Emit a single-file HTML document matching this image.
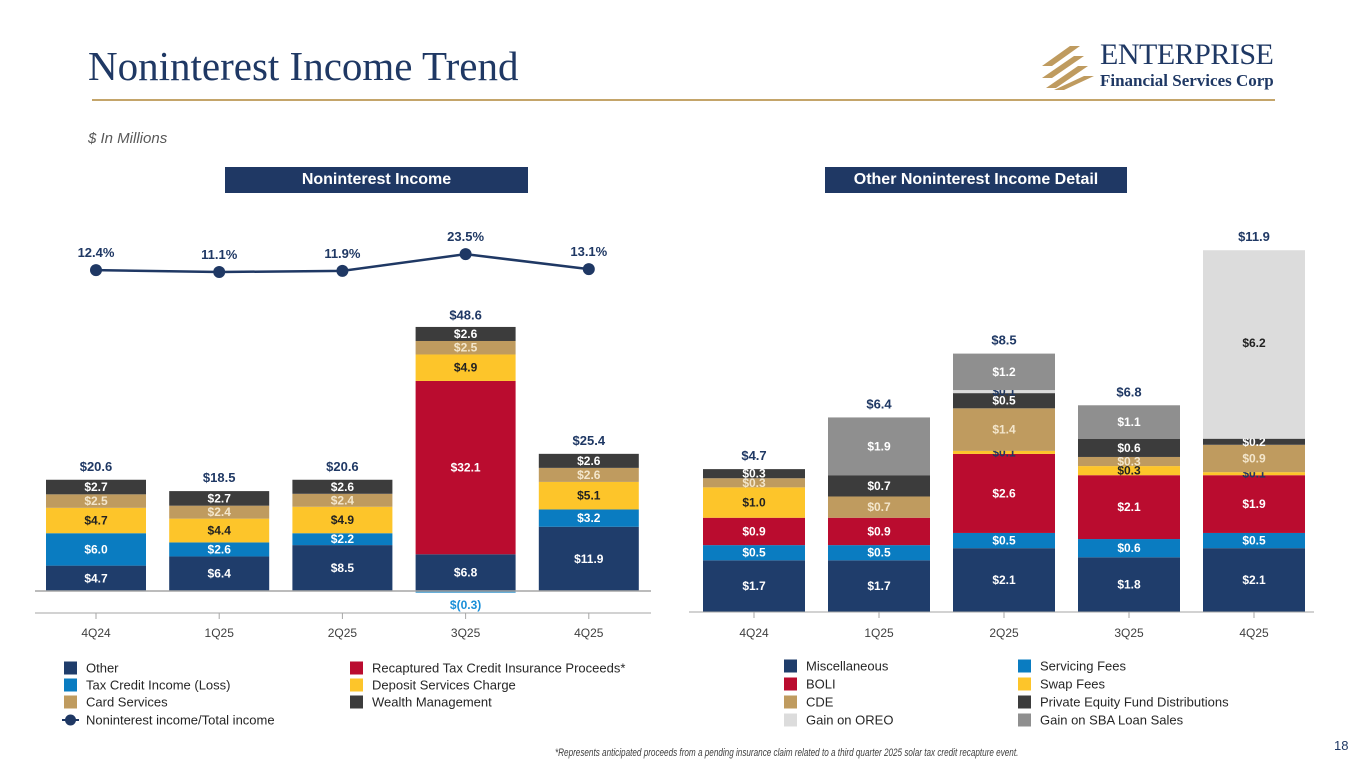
<!DOCTYPE html>
<html><head><meta charset="utf-8"><style>
body{margin:0;width:1365px;height:768px;background:#fff;overflow:hidden;font-family:"Liberation Sans",sans-serif;position:relative}
.t{position:absolute;white-space:nowrap}
</style></head><body>
<div class="t" style="left:88px;top:42px;font-family:'Liberation Serif',serif;font-size:41px;color:#1f3864">Noninterest Income Trend</div>
<div style="position:absolute;left:92px;top:99px;width:1183px;height:2px;background:#c4a56a"></div>
<div style="position:absolute;left:1040px;top:40px;width:240px;height:52px">
<svg width="60" height="52"><g fill="#bf9b5f"><polygon points="2,26 30,6 40,6 12,26"/><polygon points="2,38 34,16 44,16 12,38"/><polygon points="6,48 38,26 48,26 16,48"/><polygon points="14,50 44,36 54,36 24,50"/></g></svg>
<div class="t" style="left:60px;top:-2px;font-family:'Liberation Serif',serif;font-size:30px;color:#1f3864;letter-spacing:-0.5px">ENTERPRISE</div>
<div class="t" style="left:60px;top:31px;font-family:'Liberation Serif',serif;font-size:17px;font-weight:bold;color:#1f3864">Financial Services Corp</div>
</div>
<div class="t" style="left:88px;top:130px;font-size:15px;font-style:italic;color:#595959">$ In Millions</div>
<div class="t" style="left:225px;top:167px;width:303px;height:26px;background:#1f3864;color:#fff;font-weight:bold;font-size:16px;line-height:26px;text-align:center">Noninterest Income</div>
<div class="t" style="left:825px;top:167px;width:302px;height:26px;background:#1f3864;color:#fff;font-weight:bold;font-size:16px;line-height:26px;text-align:center">Other Noninterest Income Detail</div>
<svg id="chart" width="1365" height="768" style="position:absolute;left:0;top:0"></svg>
<div class="t" style="left:555px;top:747px;font-size:11px;font-style:italic;color:#404040;transform:scaleX(0.74);transform-origin:left top">*Represents anticipated proceeds from a pending insurance claim related to a third quarter 2025 solar tax credit recapture event.</div>
<div class="t" style="left:1334px;top:738px;font-size:13px;color:#1f3864">18</div>
<script>
const categories=["4Q24","1Q25","2Q25","3Q25","4Q25"];
const leftSeriesNames=["Other","Tax Credit Income (Loss)","Recaptured Tax Credit Insurance Proceeds*","Deposit Services Charge","Card Services","Wealth Management"];
const leftOther=[4.7,6.4,8.5,6.8,11.9];
const leftTaxCredit=[6.0,2.6,2.2,-0.3,3.2];
const leftRecaptured=[0,0,0,32.1,0];
const leftDeposit=[4.7,4.4,4.9,4.9,5.1];
const leftCard=[2.5,2.4,2.4,2.5,2.6];
const leftWealth=[2.7,2.7,2.6,2.6,2.6];
const leftTotals=[20.6,18.5,20.6,48.6,25.4];
const ratioPct=[12.4,11.1,11.9,23.5,13.1];
const rightSeriesNames=["Miscellaneous","Servicing Fees","BOLI","Swap Fees","CDE","Private Equity Fund Distributions","Gain on OREO","Gain on SBA Loan Sales"];
const rMisc=[1.7,1.7,2.1,1.8,2.1];
const rServicing=[0.5,0.5,0.5,0.6,0.5];
const rBoli=[0.9,0.9,2.6,2.1,1.9];
const rSwap=[1.0,0,0.1,0.3,0.1];
const rCde=[0.3,0.7,1.4,0.3,0.9];
const rPe=[0.3,0.7,0.5,0.6,0.2];
const rOreo=[0,0,0.1,0,6.2];
const rSba=[0,1.9,1.2,1.1,0];
const rightTotals=[4.7,6.4,8.5,6.8,11.9];

const NS="http://www.w3.org/2000/svg";
const svg=document.getElementById('chart');
function el(tag,attrs,parent){const e=document.createElementNS(NS,tag);for(const k in attrs)e.setAttribute(k,attrs[k]);(parent||svg).appendChild(e);return e;}
function txt(x,y,s,fill,size,parent){const t=el('text',{x:x,y:y,fill:fill,'font-size':size||12,'font-weight':'bold','text-anchor':'middle','font-family':'Liberation Sans, sans-serif'},parent);t.textContent=s;return t;}
const fmt=v=>v<0?'$('+Math.abs(v).toFixed(1)+')':'$'+v.toFixed(1);

// Left chart
const L={x0:96,step:123.2,bw:100,base:591,k:5.4};
const lx=i=>L.x0+i*L.step;
const ly=v=>L.base-v*L.k;
const leftSeries=[leftOther,leftTaxCredit,leftRecaptured,leftDeposit,leftCard,leftWealth];
const leftColors=["#1f3d6b","#0a7cc1","#ba0c2f","#fdc52a","#bf9b5f","#3c3c3c"];
const leftText=["#fff","#fff","#fff","#222","#f3e6cc","#fff"];
const gl=el('g',{});


categories.forEach((c,i)=>{
  let acc=0;
  leftSeries.forEach((s,j)=>{
    const v=s[i]; if(v===0)return;
    if(v<0){
      const r=el('rect',{x:lx(i)-L.bw/2,y:L.base,width:L.bw,height:-v*L.k,fill:leftColors[j]},gl);
      
      
      txt(lx(i),L.base+18,fmt(v),"#1a8fd8",12,gl);
      return;
    }
    const y1=ly(acc+v),y0=ly(acc);
    const r=el('rect',{x:lx(i)-L.bw/2,y:y1,width:L.bw,height:y0-y1,fill:leftColors[j]},gl);
    
    
    txt(lx(i),(y0+y1)/2+4,fmt(v),leftText[j],12,gl);
    acc+=v;
  });
  txt(lx(i),ly(leftTotals[i])-9,fmt(leftTotals[i]),"#1f3864",13,gl);
  txt(lx(i),637,c,"#404040",12,gl).setAttribute('font-weight','normal');
  el('line',{x1:lx(i),y1:613,x2:lx(i),y2:619,stroke:'#a6a6a6'},gl);
});
el('line',{x1:35,y1:591,x2:651,y2:591,stroke:'#a6a6a6','stroke-width':1.5});
el('line',{x1:35,y1:613,x2:651,y2:613,stroke:'#a6a6a6'});
// ratio line
const py=v=>288-v*1.44;
const pts=ratioPct.map((v,i)=>lx(i)+','+py(v)).join(' ');
const pl=el('polyline',{points:pts,fill:'none',stroke:'#1f3864','stroke-width':2.5});


ratioPct.forEach((v,i)=>{
  const d=el('circle',{cx:lx(i),cy:py(v),r:6,fill:'#1f3864'});
  
  
  txt(lx(i),py(v)-13,v.toFixed(1)+'%',"#1f3864",13);
});

// Right chart
const R={x0:754,step:125,bw:102,base:612,k:30.4};
const rx=i=>R.x0+i*R.step;
const ry=v=>R.base-v*R.k;
const rightSeries=[rMisc,rServicing,rBoli,rSwap,rCde,rPe,rOreo,rSba];
const rightColors=["#1f3d6b","#0a7cc1","#ba0c2f","#fdc52a","#bf9b5f","#3c3c3c","#dcdcdc","#8f8f8f"];
const rightText=["#fff","#fff","#fff","#222","#f3e6cc","#fff","#222","#fff"];
const gr=el('g',{});


categories.forEach((c,i)=>{
  let acc=0;
  rightSeries.forEach((s,j)=>{
    const v=s[i]; if(v===0)return;
    const y1=ry(acc+v),y0=ry(acc);
    const r=el('rect',{x:rx(i)-R.bw/2,y:y1,width:R.bw,height:y0-y1,fill:rightColors[j]},gr);
    
    
    let ty=(y0+y1)/2+4; if(j===6&&v>3) ty=y1+97;
    txt(rx(i),ty,fmt(v),v<0.2?'#1f3864':rightText[j],12,gr);
    acc+=v;
  });
  txt(rx(i),ry(rightTotals[i])-9,fmt(rightTotals[i]),"#1f3864",13,gr);
  txt(rx(i),637,c,"#404040",12,gr).setAttribute('font-weight','normal');
  el('line',{x1:rx(i),y1:612,x2:rx(i),y2:618,stroke:'#a6a6a6'},gr);
});
el('line',{x1:689,y1:612,x2:1314,y2:612,stroke:'#a6a6a6'});

// legends
function leg(x,y,color,label,name,marker){
  const g=el('g',{});
  
  
  if(marker){el('line',{x1:x-2,y1:y,x2:x+15,y2:y,stroke:color,'stroke-width':2},g);el('circle',{cx:x+6.5,cy:y,r:5.5,fill:color},g);}
  else el('rect',{x:x,y:y-6.5,width:13,height:13,fill:color},g);
  const t=el('text',{x:x+22,y:y+4.5,fill:'#262626','font-size':13,'font-family':'Liberation Sans, sans-serif'},g);t.textContent=label;
}
const rowsY=[668,685,702,720];
leg(64,rowsY[0],leftColors[0],leftSeriesNames[0],'legend-other');
leg(64,rowsY[1],leftColors[1],leftSeriesNames[1],'legend-tax-credit');
leg(64,rowsY[2],leftColors[4],leftSeriesNames[4],'legend-card-services');
leg(64,rowsY[3],'#1f3864','Noninterest income/Total income','legend-ratio',true);
leg(350,rowsY[0],leftColors[2],leftSeriesNames[2],'legend-recaptured');
leg(350,rowsY[1],leftColors[3],leftSeriesNames[3],'legend-deposit');
leg(350,rowsY[2],leftColors[5],leftSeriesNames[5],'legend-wealth');
const rl=[[784,0,0],[784,1,2],[784,2,4],[784,3,6],[1018,0,1],[1018,1,3],[1018,2,5],[1018,3,7]];
rl.forEach(([x,r,j])=>leg(x,666+r*18,rightColors[j],rightSeriesNames[j],'legend-'+rightSeriesNames[j].toLowerCase().replace(/ /g,'-')));
</script>
</body></html>
